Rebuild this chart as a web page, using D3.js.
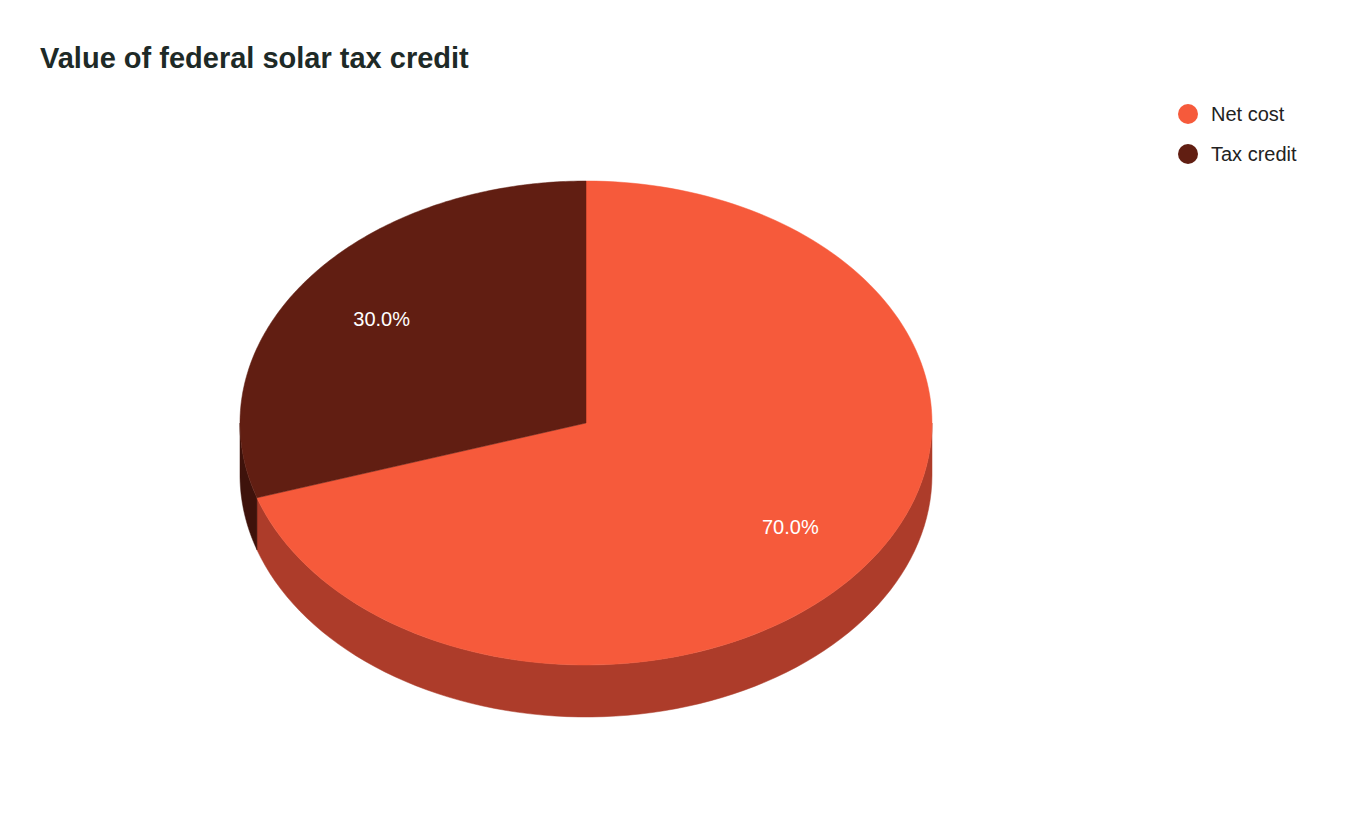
<!DOCTYPE html>
<html><head><meta charset="utf-8">
<script src="https://cdn.jsdelivr.net/npm/d3@7"></script>
<style>body{margin:0;background:#fff;}</style>
</head><body>
<svg id="c" width="1350" height="835"></svg>
<script>
const categories = ["Net cost", "Tax credit"];
const values = [70.0, 30.0];
const topColors = ["#f65a3b", "#611e12"];
const sideColors = ["#ad3c2a", "#3e120b"];

const svg = d3.select("#c");
const cx = 586, cy = 423, rx = 346, ry = 242, depth = 52;

svg.append("text").attr("x", 40).attr("y", 68).text("Value of federal solar tax credit")
  .attr("font-family", "Liberation Sans, Arial, sans-serif").attr("font-weight", "bold")
  .attr("font-size", 29).attr("fill", "#1e2a27");

const pie = d3.pie().sort(null).value(d => d)(values);
const pt = (a, dy=0) => [cx + rx*Math.sin(a), cy - ry*Math.cos(a) + dy];

// sides
pie.forEach((s, i) => {
  const a0 = Math.max(s.startAngle, Math.PI/2), a1 = Math.min(s.endAngle, 3*Math.PI/2);
  if (a1 <= a0) return;
  const n = 80, top = [], bot = [];
  for (let k = 0; k <= n; k++) { const a = a0 + (a1-a0)*k/n; top.push(pt(a)); bot.push(pt(a, depth)); }
  const pts = top.concat(bot.reverse());
  svg.append("path").attr("d", d3.line()(pts) + "Z").attr("fill", sideColors[i]).attr("stroke", sideColors[i]).attr("stroke-width", 0.5);
});
// tops
pie.forEach((s, i) => {
  const n = 160, pts = [[cx, cy]];
  for (let k = 0; k <= n; k++) pts.push(pt(s.startAngle + (s.endAngle - s.startAngle)*k/n));
  svg.append("path").attr("d", d3.line()(pts) + "Z").attr("fill", topColors[i]).attr("stroke", topColors[i]).attr("stroke-width", 0.5);
});
// labels
pie.forEach((s, i) => {
  const m = (s.startAngle + s.endAngle)/2;
  svg.append("text").attr("x", cx + 0.73*rx*Math.sin(m)).attr("y", cy - 0.73*ry*Math.cos(m) + 7)
    .attr("text-anchor", "middle").attr("font-family", "Liberation Sans, Arial, sans-serif")
    .attr("font-size", 20).attr("fill", "#fff").text(d3.format(".1f")(values[i]) + "%");
});
// legend
categories.forEach((c, i) => {
  const y = 114 + i*40;
  svg.append("circle").attr("cx", 1188).attr("cy", y).attr("r", 10).attr("fill", topColors[i]);
  svg.append("text").attr("x", 1211).attr("y", y + 7).text(c)
    .attr("font-family", "Liberation Sans, Arial, sans-serif").attr("font-size", 20).attr("fill", "#222");
});
</script>
</body></html>
